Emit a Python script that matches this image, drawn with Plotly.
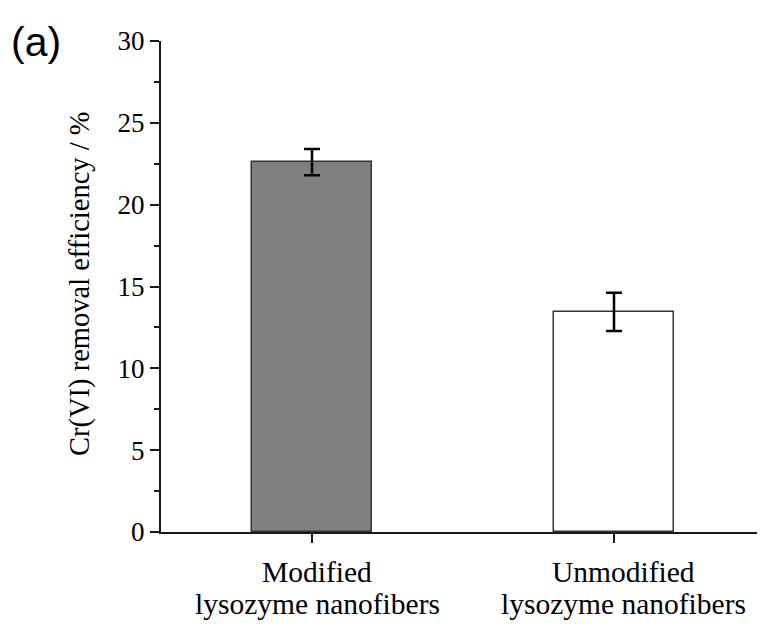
import plotly.graph_objects as go

categories = ["Modified lysozyme nanofibers", "Unmodified lysozyme nanofibers"]
label_line1 = ["Modified", "Unmodified"]
label_line2 = ["lysozyme nanofibers", "lysozyme nanofibers"]
values = [22.6, 13.45]
errors = [0.8, 1.17]
fill_colors = ["#808080", "#ffffff"]
y_ticks = [0, 5, 10, 15, 20, 25, 30]

OFF = 8  # default page body margin
W, H = 765 - OFF, 626 - OFF
L, R, T = 161 - OFF, 0, 41 - OFF
ph = 491
B = H - T - ph
pw = W - L - R

FONT = "Liberation Serif, Times New Roman, serif"
label_xshift = [5, 9]


def px_x(page_x):
    return (page_x - OFF - L) / pw


def px_y(page_y):
    return 1 - (page_y - OFF - T) / ph


fig = go.Figure()
fig.add_trace(go.Bar(
    x=[0, 1], y=values, width=0.4,
    marker=dict(color=fill_colors, line=dict(color="#333333", width=1.5)),
    error_y=dict(type="data", array=errors, visible=True, color="black",
                 thickness=2.5, width=8),
    showlegend=False,
))

fig.update_layout(
    width=W, height=H,
    margin=dict(l=L, r=R, t=T, b=B),
    plot_bgcolor="white", paper_bgcolor="white",
    font=dict(family=FONT, color="black"),
    bargap=0,
)
fig.update_xaxes(
    range=[-0.5, 1.5], tickvals=[0, 1], ticktext=["", ""],
    showline=True, linecolor="#1a1a1a", linewidth=2,
    ticks="outside", ticklen=9, tickwidth=2, tickcolor="#1a1a1a",
    showgrid=False, zeroline=False,
)
fig.update_yaxes(
    range=[0, 30], tickvals=y_ticks, ticktext=[str(v) for v in y_ticks],
    showline=True, linecolor="#1a1a1a", linewidth=2,
    ticks="outside", ticklen=9, tickwidth=2, tickcolor="#1a1a1a",
    tickfont=dict(size=27, family=FONT),
    minor=dict(ticks="outside", ticklen=5, tickwidth=2, tickcolor="#1a1a1a",
               dtick=2.5, tick0=0, showgrid=False),
    showgrid=False, zeroline=False,
)

for i in range(len(categories)):
    fig.add_annotation(x=i, xref="x", xanchor="center", xshift=label_xshift[i],
                       y=px_y(572), yref="paper",
                       text=label_line1[i], showarrow=False, yanchor="middle",
                       font=dict(size=29.5, family=FONT))
    fig.add_annotation(x=i, xref="x", xanchor="center", xshift=label_xshift[i],
                       y=px_y(604), yref="paper",
                       text=label_line2[i], showarrow=False, yanchor="middle",
                       font=dict(size=29.5, family=FONT))

fig.add_annotation(x=px_x(80), xref="paper", xanchor="center",
                   y=px_y(284), yref="paper", yanchor="middle",
                   text="Cr(VI) removal efficiency / %", textangle=-90,
                   showarrow=False, font=dict(size=28.5, family=FONT))

fig.add_annotation(x=px_x(9), xref="paper", xanchor="left",
                   y=px_y(42), yref="paper", yanchor="middle",
                   text="(a)", showarrow=False,
                   font=dict(size=41, family="Liberation Sans, Arial, sans-serif"))

fig.write_html("out.html")
